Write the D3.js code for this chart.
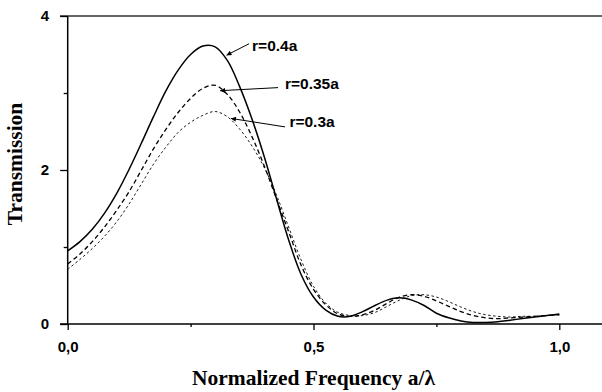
<!DOCTYPE html>
<html>
<head>
<meta charset="utf-8">
<script src="https://cdn.jsdelivr.net/npm/d3@7"></script>
<style>
  body { margin: 0; background: #fff; }
  svg { display: block; }
</style>
</head>
<body>
<div id="chart"></div>
<script>
// normalized frequency a/lambda, shared by the three curves (step 0.025)
const freq = d3.range(0, 41).map(i => i / 40);

const transR040 = [0.95, 1.07, 1.23, 1.44, 1.70, 2.01, 2.35, 2.70, 3.03, 3.30, 3.50, 3.61, 3.60, 3.42,
  3.08, 2.66, 2.17, 1.62, 1.08, 0.64, 0.35, 0.18, 0.10, 0.10, 0.16, 0.24, 0.31, 0.34,
  0.31, 0.24, 0.14, 0.08, 0.04, 0.02, 0.02, 0.03, 0.05, 0.07, 0.09, 0.11, 0.13];

const transR035 = [0.78, 0.91, 1.07, 1.26, 1.48, 1.72, 2.00, 2.28, 2.53, 2.75, 2.93, 3.06, 3.10, 2.98,
  2.75, 2.43, 2.05, 1.62, 1.19, 0.76, 0.45, 0.25, 0.13, 0.10, 0.12, 0.18, 0.27, 0.35,
  0.38, 0.36, 0.30, 0.23, 0.16, 0.11, 0.08, 0.07, 0.08, 0.09, 0.10, 0.11, 0.12];

const transR030 = [0.71, 0.84, 0.98, 1.14, 1.33, 1.56, 1.82, 2.08, 2.30, 2.49, 2.62, 2.71, 2.76, 2.69,
  2.53, 2.31, 2.03, 1.67, 1.25, 0.83, 0.49, 0.27, 0.15, 0.11, 0.11, 0.15, 0.23, 0.31,
  0.37, 0.38, 0.35, 0.29, 0.22, 0.16, 0.12, 0.10, 0.09, 0.10, 0.10, 0.11, 0.12];

const xTicks = [0, 0.5, 1.0];
const xMinorTicks = [0.25, 0.75];
const yTicks = [0, 2, 4];
const yMinorTicks = [1, 3];

// annotation: label, text anchor point, arrow tail and tip (data units)
const labels = ["r=0.4a", "r=0.35a", "r=0.3a"];
const labelPos = [[0.375, 3.62], [0.442, 3.13], [0.451, 2.63]];
const arrowTail = [[0.369, 3.64], [0.428, 3.07], [0.442, 2.56]];
const arrowTip = [[0.323, 3.49], [0.310, 3.03], [0.332, 2.67]];

const series = [
  {values: transR040, dash: null, width: 1.5},
  {values: transR035, dash: "4.5,3", width: 1.3},
  {values: transR030, dash: "2.5,2.5", width: 0.9}
];

const W = 602, H = 392;
const x = d3.scaleLinear().domain([0, 1]).range([67.7, 559.3]);
const y = d3.scaleLinear().domain([0, 4]).range([324, 16]);

const svg = d3.select("#chart").append("svg")
    .attr("width", W).attr("height", H);

const defs = svg.append("defs");
defs.append("marker").attr("id", "arrow")
    .attr("viewBox", "0 0 10 10").attr("refX", 10).attr("refY", 5)
    .attr("markerWidth", 9).attr("markerHeight", 5).attr("markerUnits", "userSpaceOnUse")
    .attr("orient", "auto")
  .append("path").attr("d", "M0,0L10,5L0,10Z").attr("fill", "#000");

// frame lines (top and bottom run out to the right edge)
svg.append("line").attr("x1", 60).attr("x2", W).attr("y1", y(4)).attr("y2", y(4))
    .attr("stroke", "#333").attr("stroke-width", 1.5);
svg.append("line").attr("x1", 60).attr("x2", W).attr("y1", y(0)).attr("y2", y(0))
    .attr("stroke", "#000").attr("stroke-width", 1.5);
svg.append("line").attr("x1", x(0)).attr("x2", x(0)).attr("y1", y(4)).attr("y2", y(0))
    .attr("stroke", "#000").attr("stroke-width", 1.5);

const tickFont = "'Liberation Sans', Arial, sans-serif";
const titleFont = "'Liberation Serif', 'Times New Roman', serif";

svg.append("g").attr("transform", `translate(0,${y(0)})`)
    .call(d3.axisBottom(x).tickValues(xTicks).tickSize(6).tickPadding(11.3)
      .tickFormat(d => d3.format(".1f")(d).replace(".", ",")));
svg.append("g").attr("transform", `translate(0,${y(0)})`)
    .call(d3.axisBottom(x).tickValues(xMinorTicks).tickSize(3).tickFormat(""));

svg.append("g").attr("transform", `translate(${x(0)},0)`)
    .call(d3.axisLeft(y).tickValues(yTicks).tickSize(7.5).tickPadding(11).tickFormat(d3.format("d")));
svg.append("g").attr("transform", `translate(${x(0)},0)`)
    .call(d3.axisLeft(y).tickValues(yMinorTicks).tickSize(4).tickFormat(""));

svg.selectAll(".domain").remove();
svg.selectAll(".tick line").attr("stroke", "#000").attr("stroke-width", 1.3);
svg.selectAll(".tick text").attr("font-family", tickFont).attr("font-weight", "bold")
    .attr("font-size", 15).attr("fill", "#000");

// curves
const line = d3.line().x((d, i) => x(freq[i])).y(d => y(d)).curve(d3.curveCatmullRom.alpha(0.5));
svg.append("g").selectAll("path").data(series).join("path")
    .attr("d", d => line(d.values))
    .attr("fill", "none").attr("stroke", "#000")
    .attr("stroke-width", d => d.width)
    .attr("stroke-dasharray", d => d.dash);

// annotations
const ann = svg.append("g");
labels.forEach((t, i) => {
  ann.append("line")
      .attr("x1", x(arrowTail[i][0])).attr("y1", y(arrowTail[i][1]))
      .attr("x2", x(arrowTip[i][0])).attr("y2", y(arrowTip[i][1]))
      .attr("stroke", "#000").attr("stroke-width", 1)
      .attr("marker-end", "url(#arrow)");
  ann.append("text")
      .attr("x", x(labelPos[i][0])).attr("y", y(labelPos[i][1]))
      .attr("dy", "0.36em")
      .attr("font-family", tickFont).attr("font-weight", "bold").attr("font-size", 15.5)
      .text(t);
});

// axis titles
svg.append("text")
    .attr("x", x(0.5)).attr("y", 385)
    .attr("text-anchor", "middle")
    .attr("font-family", titleFont)
    .attr("font-weight", "bold").attr("font-size", 21.5)
    .text("Normalized Frequency a/λ");

svg.append("text")
    .attr("transform", `translate(22,164) rotate(-90)`)
    .attr("text-anchor", "middle")
    .attr("font-family", titleFont)
    .attr("font-weight", "bold").attr("font-size", 21.5)
    .text("Transmission");
</script>
</body>
</html>
